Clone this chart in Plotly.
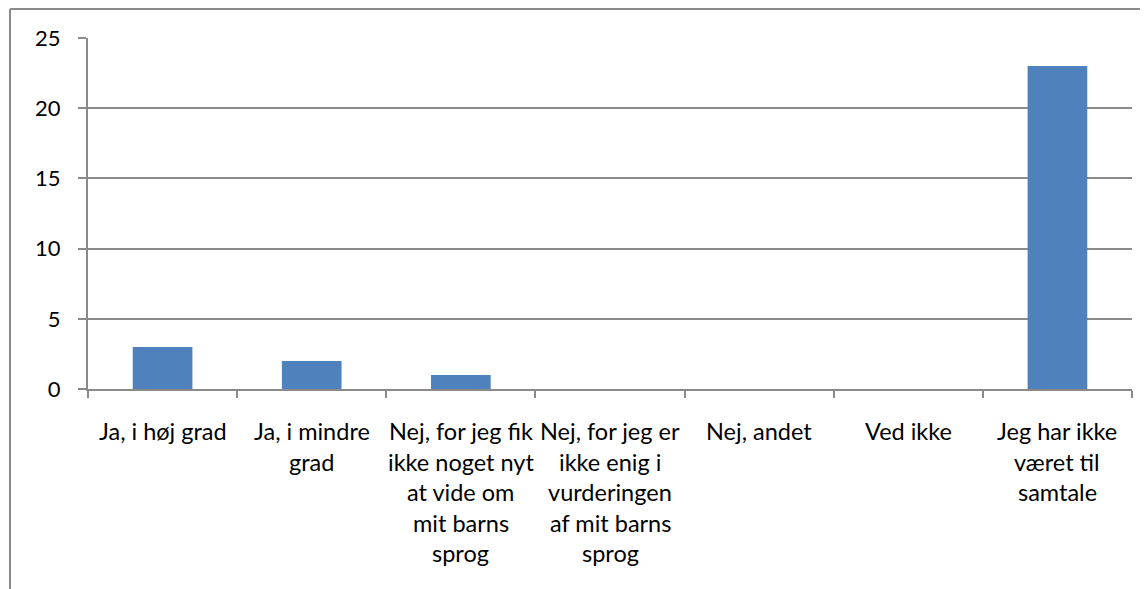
import plotly.graph_objects as go

categories = [
    "Ja, i høj grad",
    "Ja, i mindre grad",
    "Nej, for jeg fik ikke noget nyt at vide om mit barns sprog",
    "Nej, for jeg er ikke enig i vurderingen af mit barns sprog",
    "Nej, andet",
    "Ved ikke",
    "Jeg har ikke været til samtale",
]
label_lines = [
    ["Ja, i høj grad"],
    ["Ja, i mindre", "grad"],
    ["Nej, for jeg fik", "ikke noget nyt", "at vide om", "mit barns", "sprog"],
    ["Nej, for jeg er", "ikke enig i", "vurderingen", "af mit barns", "sprog"],
    ["Nej, andet"],
    ["Ved ikke"],
    ["Jeg har ikke", "været til", "samtale"],
]
values = [3, 2, 1, 0, 0, 0, 23]
y_ticks = [0, 5, 10, 15, 20, 25]

FONT = "Lato"
GRID = "#8A8A8A"

fig = go.Figure(go.Bar(
    x=categories, y=values, width=0.4,
    marker=dict(color="#4F81BD", line=dict(width=0)),
))

annotations = []
for cat, lines in zip(categories, label_lines):
    for i, ln in enumerate(lines):
        annotations.append(dict(
            x=cat, xref="x", y=0, yref="paper", yanchor="middle",
            xanchor="center", yshift=-(42 + 30.5 * i), showarrow=False,
            text=ln, font=dict(family=FONT, size=23.5, color="black"),
        ))

fig.update_layout(
    width=1140, height=581,
    margin=dict(l=80, r=16, t=30, b=200),
    paper_bgcolor="white", plot_bgcolor="white",
    showlegend=False,
    annotations=annotations,
    shapes=[
        dict(type="line", xref="paper", yref="paper", x0=-0.0747, x1=1.1,
             y0=1.0826, y1=1.0826, line=dict(color=GRID, width=2)),
        dict(type="line", xref="paper", yref="paper", x0=-0.0747, x1=-0.0747,
             y0=1.0826, y1=-0.7, line=dict(color=GRID, width=2)),
    ],
    xaxis=dict(
        showticklabels=False, tickson="boundaries", ticks="outside",
        ticklen=7, tickcolor=GRID, tickwidth=2,
        showline=True, linecolor=GRID, linewidth=2, showgrid=False,
        fixedrange=True,
    ),
    yaxis=dict(
        range=[0, 25], tickvals=y_ticks, ticks="outside", ticklen=8,
        tickcolor=GRID, tickwidth=2, showline=True, linecolor=GRID,
        linewidth=2, showgrid=True, gridcolor=GRID, gridwidth=2,
        zeroline=False, ticklabelstandoff=13,
        tickfont=dict(family=FONT, size=22, color="black"),
    ),
)

fig.write_html("out.html")
